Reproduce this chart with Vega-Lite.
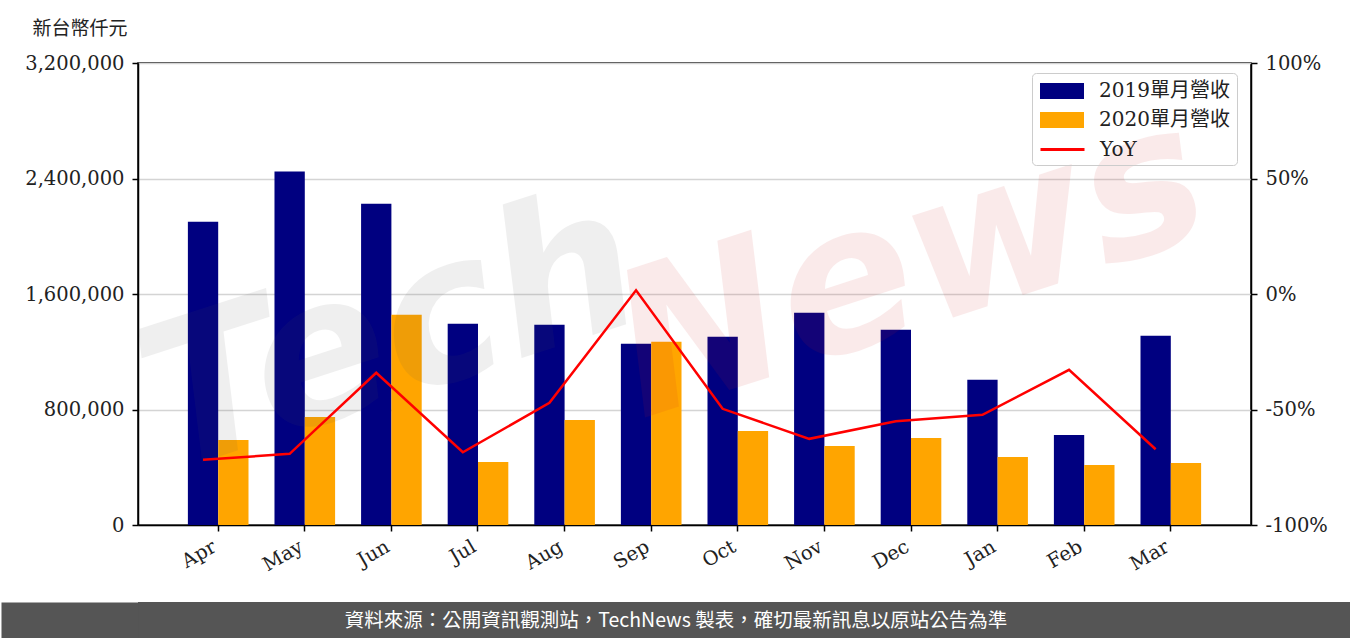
{
  "$schema": "https://vega.github.io/schema/vega-lite/v6.json",
  "padding": 0,
  "spacing": 0,
  "columns": 1,
  "background": "white",
  "datasets": {
    "revenue": [
      {"month": "Apr", "series": "2019單月營收", "value": 2101000},
      {"month": "Apr", "series": "2020單月營收", "value": 589400},
      {"month": "May", "series": "2019單月營收", "value": 2447700},
      {"month": "May", "series": "2020單月營收", "value": 748900},
      {"month": "Jun", "series": "2019單月營收", "value": 2225800},
      {"month": "Jun", "series": "2020單月營收", "value": 1456100},
      {"month": "Jul", "series": "2019單月營收", "value": 1393700},
      {"month": "Jul", "series": "2020單月營收", "value": 436800},
      {"month": "Aug", "series": "2019單月營收", "value": 1386800},
      {"month": "Aug", "series": "2020單月營收", "value": 728100},
      {"month": "Sep", "series": "2019單月營收", "value": 1255100},
      {"month": "Sep", "series": "2020單月營收", "value": 1268900},
      {"month": "Oct", "series": "2019單月營收", "value": 1303600},
      {"month": "Oct", "series": "2020單月營收", "value": 651800},
      {"month": "Nov", "series": "2019單月營收", "value": 1470000},
      {"month": "Nov", "series": "2020單月營收", "value": 547800},
      {"month": "Dec", "series": "2019單月營收", "value": 1352100},
      {"month": "Dec", "series": "2020單月營收", "value": 603300},
      {"month": "Jan", "series": "2019單月營收", "value": 1005400},
      {"month": "Jan", "series": "2020單月營收", "value": 471500},
      {"month": "Feb", "series": "2019單月營收", "value": 624100},
      {"month": "Feb", "series": "2020單月營收", "value": 416000},
      {"month": "Mar", "series": "2019單月營收", "value": 1310500},
      {"month": "Mar", "series": "2020單月營收", "value": 429900}
    ],
    "yoy": [
      {"month": "Apr", "yoy": -71.8},
      {"month": "May", "yoy": -69.2},
      {"month": "Jun", "yoy": -34.1},
      {"month": "Jul", "yoy": -68.5},
      {"month": "Aug", "yoy": -47.1},
      {"month": "Sep", "yoy": 1.6},
      {"month": "Oct", "yoy": -49.7},
      {"month": "Nov", "yoy": -62.7},
      {"month": "Dec", "yoy": -55.1},
      {"month": "Jan", "yoy": -52.3},
      {"month": "Feb", "yoy": -32.8},
      {"month": "Mar", "yoy": -67.2}
    ],
    "watermark": [
      {"word": "Tech", "month": "Jun", "level": 1300000, "part": "gray"},
      {"word": "News", "month": "Dec", "level": 1780000, "part": "pink"}
    ],
    "footer": [
      {"note": "資料來源：公開資訊觀測站，TechNews 製表，確切最新訊息以原站公告為準", "row": "f"}
    ]
  },
  "concat": [
    {
      "width": 1113,
      "height": 462,
      "view": {"stroke": "black", "strokeWidth": 1.5, "fill": "white"},
      "resolve": {"scale": {"y": "independent", "color": "independent"}, "axis": {"y": "independent"}},
      "layer": [
        {
          "data": {"name": "revenue"},
          "mark": {"type": "bar"},
          "encoding": {
            "x": {
              "field": "month",
              "type": "nominal",
              "sort": ["Apr", "May", "Jun", "Jul", "Aug", "Sep", "Oct", "Nov", "Dec", "Jan", "Feb", "Mar"],
              "scale": {"type": "band", "paddingInner": 0.3, "paddingOuter": 0.576},
              "axis": {
                "labelAngle": -30,
                "labelAlign": "right",
                "labelBaseline": "top",
                "labelPadding": 6,
                "labelOffset": -8,
                "labelFont": "DejaVu Serif",
                "labelFontSize": 19.5,
                "labelColor": "#222222",
                "tickColor": "black",
                "tickSize": 6,
                "tickWidth": 1.5,
                "domainColor": "black",
                "domainWidth": 1.5,
                "grid": false,
                "title": " ",
                "titleColor": "transparent",
                "titleAngle": 0,
                "titleAlign": "left",
                "titleBaseline": "top",
                "titleX": -137,
                "titleY": -524,
                "titleFontSize": 10
              }
            },
            "xOffset": {
              "field": "series",
              "type": "nominal",
              "scale": {"paddingInner": 0, "paddingOuter": 0}
            },
            "y": {
              "field": "value",
              "type": "quantitative",
              "scale": {"domain": [0, 3200000], "nice": false, "zero": true},
              "axis": {
                "orient": "left",
                "values": [0, 800000, 1600000, 2400000, 3200000],
                "format": ",.0f",
                "grid": true,
                "gridColor": "#d4d4d4",
                "gridWidth": 1.5,
                "domainColor": "black",
                "domainWidth": 1.5,
                "tickColor": "black",
                "tickSize": 6,
                "tickWidth": 1.5,
                "labelFont": "DejaVu Serif",
                "labelFontSize": 19.5,
                "labelColor": "#222222",
                "labelPadding": 8,
                "title": "新台幣仟元",
                "titleFont": "Noto Sans CJK TC",
                "titleFontSize": 19,
                "titleFontWeight": "normal",
                "titleColor": "#222222",
                "titleAngle": 0,
                "titleAlign": "left",
                "titleBaseline": "middle",
                "titleX": -106,
                "titleY": -35
              }
            },
            "color": {
              "field": "series",
              "type": "nominal",
              "scale": {
                "domain": ["2019單月營收", "2020單月營收"],
                "range": ["#000080", "#FFA500"]
              },
              "legend": {
                "title": " ",
                "titleOrient": "bottom",
                "titleFontSize": 20,
                "titlePadding": 8,
                "titleColor": "transparent",
                "orient": "none",
                "legendX": 894,
                "legendY": 10,
                "padding": 7,
                "rowPadding": 8,
                "strokeColor": "#cccccc",
                "cornerRadius": 4,
                "symbolType": "M-1,-0.8H3.4V0.8H-1Z",
                "symbolSize": 400,
                "symbolOpacity": 1,
                "labelOffset": 38,
                "labelFont": "DejaVu Serif, Noto Sans CJK TC",
                "labelFontSize": 20,
                "labelColor": "#222222",
                "labelLimit": 300
              }
            }
          }
        },
        {
          "data": {"name": "watermark"},
          "mark": {
            "type": "text",
            "font": "DejaVu Sans",
            "fontSize": 200,
            "fontWeight": "bold",
            "fontStyle": "italic",
            "angle": -18,
            "align": "center",
            "baseline": "middle",
            "opacity": 0.09
          },
          "encoding": {
            "x": {"field": "month", "type": "nominal", "sort": ["Apr", "May", "Jun", "Jul", "Aug", "Sep", "Oct", "Nov", "Dec", "Jan", "Feb", "Mar"]},
            "y": {"field": "level", "type": "quantitative", "scale": {"domain": [0, 3200000], "nice": false}, "axis": null},
            "text": {"field": "word", "type": "nominal"},
            "fill": {
              "field": "part",
              "type": "nominal",
              "scale": {"domain": ["gray", "pink"], "range": ["#555555", "#d02020"]},
              "legend": null
            }
          }
        },
        {
          "data": {"name": "yoy"},
          "mark": {"type": "line", "strokeWidth": 2.5},
          "encoding": {
            "x": {
              "field": "month",
              "type": "nominal",
              "sort": ["Apr", "May", "Jun", "Jul", "Aug", "Sep", "Oct", "Nov", "Dec", "Jan", "Feb", "Mar"],
              "bandPosition": 0.25
            },
            "y": {
              "field": "yoy",
              "type": "quantitative",
              "scale": {"domain": [-100, 100], "nice": false, "zero": false},
              "axis": {
                "orient": "right",
                "values": [-100, -50, 0, 50, 100],
                "labelExpr": "datum.value + '%'",
                "grid": false,
                "domainColor": "black",
                "domainWidth": 1.5,
                "tickColor": "black",
                "tickSize": 6,
                "tickWidth": 1.5,
                "labelFont": "DejaVu Serif",
                "labelFontSize": 19.5,
                "labelColor": "#222222",
                "labelPadding": 8,
                "title": " ",
                "titleColor": "transparent",
                "titleAngle": 0,
                "titleAlign": "left",
                "titleBaseline": "bottom",
                "titleX": 0,
                "titleY": 538,
                "titleFontSize": 10
              }
            },
            "stroke": {
              "datum": "YoY",
              "type": "nominal",
              "scale": {"domain": ["YoY"], "range": ["#FF0000"]},
              "legend": {
                "title": null,
                "orient": "none",
                "legendX": 901,
                "legendY": 75,
                "padding": 0,
                "symbolType": "M-1,0H3.4",
                "symbolSize": 400,
                "symbolStrokeWidth": 3,
                "symbolOpacity": 1,
                "labelOffset": 38,
                "labelFont": "DejaVu Serif",
                "labelFontSize": 20,
                "labelColor": "#222222"
              }
            }
          }
        }
      ]
    },
    {
      "width": 1213,
      "height": 38,
      "view": {"fill": "#555555", "stroke": null},
      "data": {"name": "footer"},
      "mark": {"type": "text", "color": "white", "font": "Noto Sans CJK TC", "fontSize": 19.5, "align": "center", "baseline": "middle", "dx": -68.5},
      "encoding": {
        "text": {"field": "note", "type": "nominal"},
        "y": {
          "field": "row",
          "type": "nominal",
          "scale": {"type": "point", "padding": 0.5},
          "axis": {
            "orient": "left",
            "offset": 68.5,
            "domain": true,
            "domainColor": "#555555",
            "domainWidth": 137,
            "domainCap": "butt",
            "ticks": false,
            "labels": false,
            "grid": false,
            "title": null
          }
        }
      }
    }
  ]
}
